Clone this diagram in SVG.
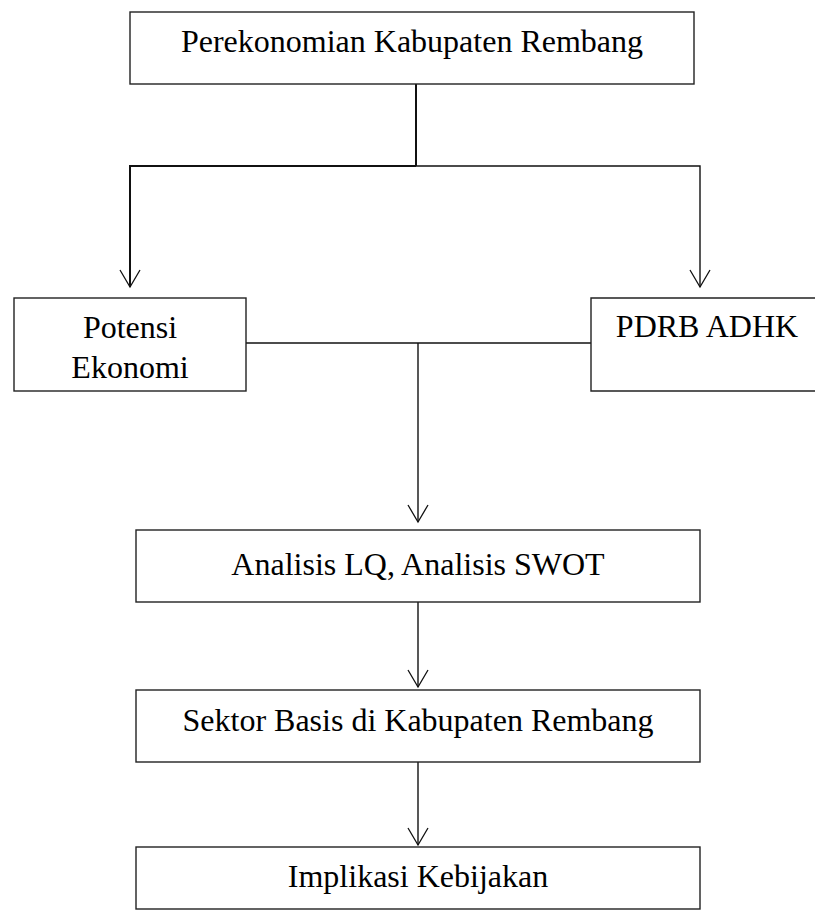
<svg xmlns="http://www.w3.org/2000/svg" width="815" height="912" viewBox="0 0 815 912">
<style>
.box{fill:#fff;stroke:#222;stroke-width:1.4}
.t{font-family:"Liberation Serif","Times New Roman",serif;font-size:32px;fill:#000;text-anchor:middle}
.c{fill:none;stroke:#111;stroke-width:1.4}
.c2{fill:none;stroke:#111;stroke-width:2}
.a{marker-end:url(#arr)}
</style>
<defs>
<marker id="arr" markerUnits="userSpaceOnUse" markerWidth="22" markerHeight="24" viewBox="-19 -12 22 24" refX="0" refY="0" orient="auto">
<path d="M-17,-10 L0,0 L-17,10" fill="none" stroke="#111" stroke-width="1.3"/>
</marker>
</defs>
<rect width="815" height="912" fill="#fff"/>
<g id="connectors">
<line class="c2" x1="416" y1="84" x2="416" y2="166"/>
<polyline class="c2 a" points="416,166 130,166 130,287"/>
<polyline class="c a" points="416,166 700,166 700,287"/>
<line class="c" x1="246" y1="343" x2="591" y2="343"/>
<line class="c a" x1="418" y1="343" x2="418" y2="522"/>
<line class="c a" x1="418" y1="602" x2="418" y2="687"/>
<line class="c a" x1="418" y1="762" x2="418" y2="845"/>
</g>
<g id="n-perekonomian">
<rect class="box" x="130" y="12" width="564" height="72"/>
<text class="t" x="412" y="52">Perekonomian Kabupaten Rembang</text>
</g>
<g id="n-potensi">
<rect class="box" x="14" y="298" width="232" height="93"/>
<text class="t" x="130" y="338">Potensi</text>
<text class="t" x="130" y="378">Ekonomi</text>
</g>
<g id="n-pdrb">
<path class="box" d="M830,298 L591,298 L591,391 L830,391"/>
<text class="t" x="707" y="337">PDRB ADHK</text>
</g>
<g id="n-analisis">
<rect class="box" x="136" y="530" width="564" height="72"/>
<text class="t" x="418" y="575">Analisis LQ, Analisis SWOT</text>
</g>
<g id="n-sektor">
<rect class="box" x="136" y="690" width="564" height="72"/>
<text class="t" x="418" y="731">Sektor Basis di Kabupaten Rembang</text>
</g>
<g id="n-implikasi">
<rect class="box" x="136" y="847" width="564" height="62"/>
<text class="t" x="418" y="887">Implikasi Kebijakan</text>
</g>
</svg>
